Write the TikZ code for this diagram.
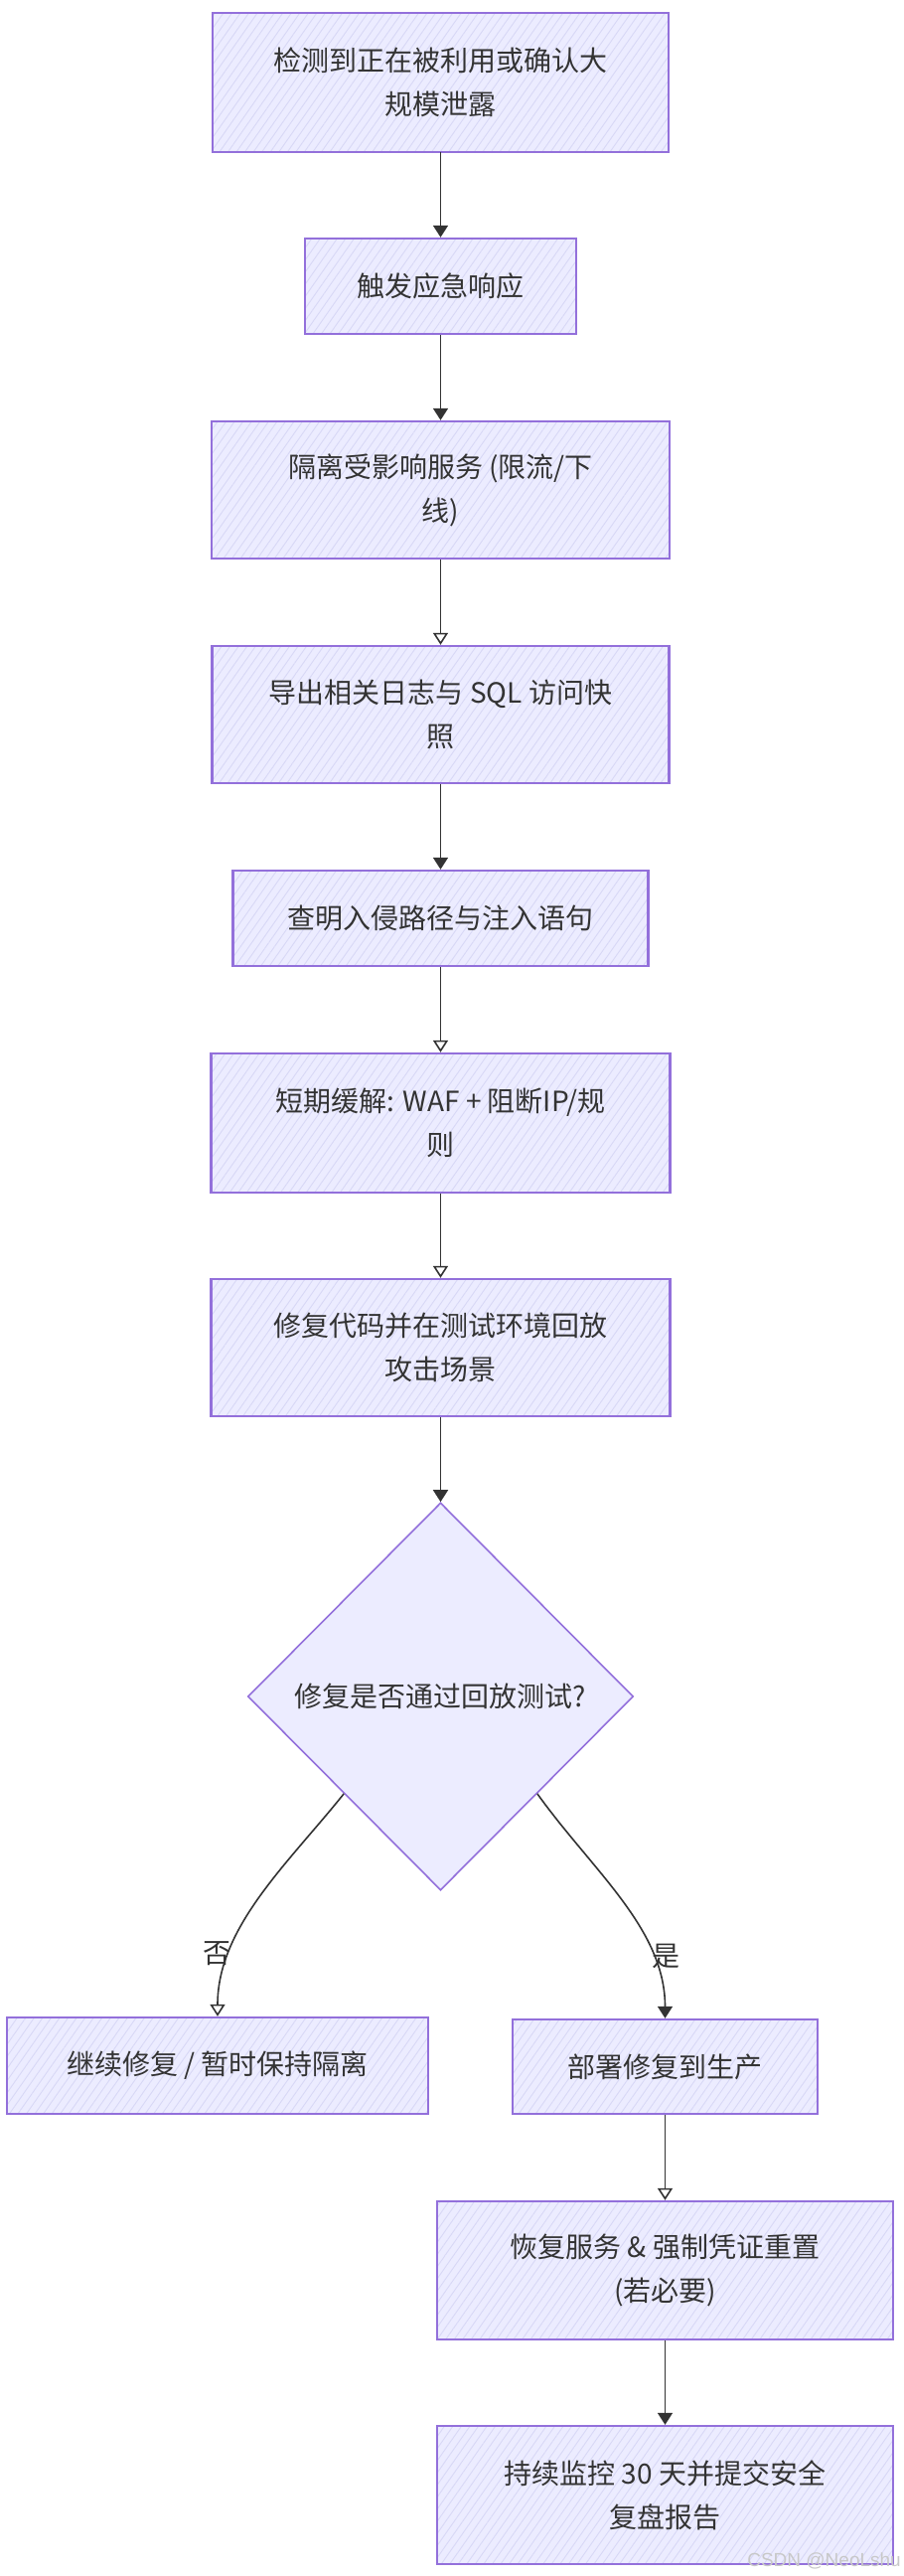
\documentclass[tikz,border=0pt]{standalone}
\usepackage{fontspec}
\newfontfamily\cjk{Noto Sans CJK SC}
\usetikzlibrary{shapes.geometric,arrows.meta,patterns.meta}
\definecolor{boxfill}{HTML}{ECECFF}
\definecolor{hatch}{HTML}{D8D8F6}
\definecolor{boxline}{HTML}{9370DB}
\definecolor{txt}{HTML}{333333}
\definecolor{wmc}{HTML}{C8C8C8}
\tikzset{
  stepbox/.style={draw=boxline, line width=2.4pt, preaction={fill=boxfill},
    pattern={Lines[angle=55,distance=7pt,line width=0.9pt]}, pattern color=hatch,
    text=txt, font=\cjk\fontsize{28pt}{44pt}\selectfont, align=center, inner sep=0pt},
  decbox/.style={diamond, draw=boxline, line width=1.6pt, fill=boxfill, shape aspect=1,
    text=txt, font=\cjk\fontsize{28pt}{44pt}\selectfont, inner sep=0pt,
    minimum width=388pt, minimum height=390pt},
  flowfill/.style={draw=txt, line width=1.6pt, -{Triangle[length=12pt,width=15pt]}},
  flowopen/.style={draw=txt, line width=1.6pt, -{Triangle[open,length=12pt,width=15pt]}},
  lbl/.style={text=txt, font=\cjk\fontsize{28pt}{34pt}\selectfont, inner sep=0pt}
}
\begin{document}
\begin{tikzpicture}[x=1pt,y=-1pt]
\useasboundingbox (0,0) rectangle (910,2592);
\node[stepbox, minimum width=459pt, minimum height=140pt] (b1) at (443.5,83) {检测到正在被利用或确认大\\规模泄露};
\node[stepbox, minimum width=273pt, minimum height=96pt] (b2) at (443.5,288) {触发应急响应};
\node[stepbox, minimum width=461pt, minimum height=138pt] (b3) at (443.5,493) {隔离受影响服务 (限流/下\\线)};
\node[stepbox, minimum width=460pt, minimum height=138pt] (b4) at (443.5,719) {导出相关日志与 SQL 访问快\\照};
\node[stepbox, minimum width=418pt, minimum height=96pt] (b5) at (443.5,924) {查明入侵路径与注入语句};
\node[stepbox, minimum width=462pt, minimum height=140pt] (b6) at (443.5,1130) {短期缓解: WAF + 阻断IP/规\\则};
\node[stepbox, minimum width=462pt, minimum height=138pt] (b7) at (443.5,1356) {修复代码并在测试环境回放\\攻击场景};
\node[decbox] (dec) at (443.5,1707) {修复是否通过回放测试?};
\node[stepbox, minimum width=424pt, minimum height=97pt] (bno) at (219,2078.5) {继续修复 / 暂时保持隔离};
\node[stepbox, minimum width=307pt, minimum height=95pt] (byes) at (669.5,2079.5) {部署修复到生产};
\node[stepbox, minimum width=459pt, minimum height=139pt] (b8) at (669.5,2284.5) {恢复服务 \& 强制凭证重置\\(若必要)};
\node[stepbox, minimum width=459pt, minimum height=139pt] (b9) at (669.5,2510.5) {持续监控 30 天并提交安全\\复盘报告};

\draw[flowfill] (b1) -- (b2);
\draw[flowfill] (b2) -- (b3);
\draw[flowopen] (b3) -- (b4);
\draw[flowfill] (b4) -- (b5);
\draw[flowopen] (b5) -- (b6);
\draw[flowopen] (b6) -- (b7);
\draw[flowfill] (b7) -- (dec.north);
\draw[flowopen] (dec.south west) .. controls +(-56,70) and +(0,-90) .. (bno.north)
  node[lbl, pos=0.75, xshift=-12pt] (lblno) {否};
\draw[flowfill] (dec.south east) .. controls +(56,78) and +(0,-90) .. (byes.north)
  node[lbl, pos=0.75, xshift=13pt] (lblyes) {是};
\draw[flowopen] (byes) -- (b8);
\draw[flowfill] (b8) -- (b9);

\node[text=wmc, font=\fontspec{Liberation Sans}\fontsize{19pt}{22pt}\selectfont, anchor=east, inner sep=0pt] (wm) at (907,2577) {CSDN @NeoLshu};
\end{tikzpicture}
\end{document}
